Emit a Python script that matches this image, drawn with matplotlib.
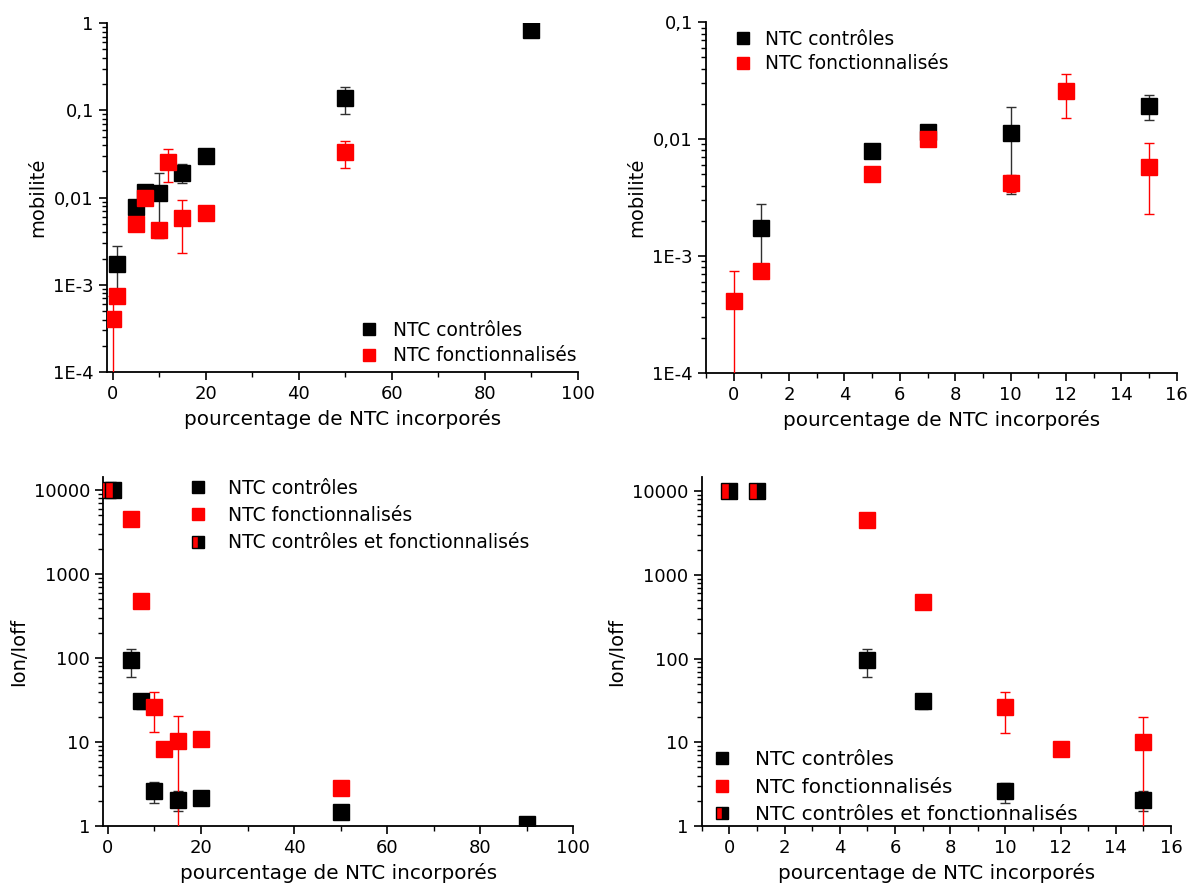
import matplotlib
matplotlib.use("Agg")
import matplotlib.pyplot as plt
from matplotlib.ticker import FixedLocator, FixedFormatter, LogLocator, NullFormatter, MultipleLocator
from matplotlib.lines import Line2D

plt.rcParams['font.family'] = ['DejaVu Sans']

# ---------------- data ----------------
# mobility
mob_ctrl_x = [1, 5, 7, 10, 15, 20, 50, 90]
mob_ctrl_y = [1.75e-3, 7.9e-3, 0.0115, 0.0112, 0.0193, 0.030, 0.137, 0.83]
mob_ctrl_err = [1.05e-3, 0, 0.0008, 0.0078, 0.0047, 0, 0.046, 0]

mob_func_x = [0, 1, 5, 7, 10, 12, 15, 20, 50]
mob_func_y = [4.1e-4, 7.4e-4, 5.0e-3, 0.0100, 0.0042, 0.0257, 0.0058, 0.0066, 0.033]
mob_func_err = [3.3e-4, 0, 0, 0, 0.0007, 0.0105, 0.0035, 0, 0.011]

# Ion/Ioff
ion_ctrl_x = [5, 7, 10, 15, 20, 50, 90]
ion_ctrl_y = [95, 31, 2.6, 2.05, 2.15, 1.45, 1.05]
ion_ctrl_err = [35, 6, 0.7, 0.55, 0, 0, 0]

ion_func_x = [5, 7, 10, 12, 15, 20, 50]
ion_func_y = [4500, 480, 26.5, 8.3, 10.2, 11.0, 2.8]
ion_func_err = [0, 0, 13.5, 0, 10, 0, 0]

ion_both_x = [0, 1]
ion_both_y = [10000, 10000]

mob_ticks = [1e-4, 1e-3, 1e-2, 1e-1, 1]
mob_ticklabels = ['1E-4', '1E-3', '0,01', '0,1', '1']
ion_ticks = [1, 10, 100, 1000, 10000]
ion_ticklabels = ['1', '10', '100', '1000', '10000']

lbl_ctrl = 'NTC contrôles'
lbl_func = 'NTC fonctionnalisés'
lbl_both = 'NTC contrôles et fonctionnalisés'
xlabel = 'pourcentage de NTC incorporés'

# ---------------- style ----------------
FS = 13
MS = 11
RED = '#ff0000'

fig = plt.figure(figsize=(11.9, 8.9), dpi=100)
ax_tl = fig.add_axes([0.0899, 0.582, 0.3955, 0.392])
ax_tr = fig.add_axes([0.5933, 0.581, 0.3955, 0.394])
ax_bl = fig.add_axes([0.0868, 0.0719, 0.395, 0.392])
ax_br = fig.add_axes([0.5897, 0.0719, 0.3944, 0.392])


def style(ax, ticks, labels, ylim, xlim, xmajor, xminor, ylabel):
    ax.set_yscale('log')
    ax.set_ylim(*ylim)
    ax.set_xlim(*xlim)
    ax.yaxis.set_major_locator(FixedLocator(ticks))
    ax.yaxis.set_major_formatter(FixedFormatter(labels))
    ax.yaxis.set_minor_locator(LogLocator(base=10, subs=range(2, 10), numticks=20))
    ax.yaxis.set_minor_formatter(NullFormatter())
    ax.xaxis.set_major_locator(MultipleLocator(xmajor))
    ax.xaxis.set_minor_locator(MultipleLocator(xminor))
    for s in ['top', 'right']:
        ax.spines[s].set_visible(False)
    for s in ['left', 'bottom']:
        ax.spines[s].set_linewidth(1.3)
    ax.tick_params(which='major', direction='out', length=6, width=1.2, labelsize=FS)
    ax.tick_params(which='minor', direction='out', length=3.5, width=1.0)
    ax.set_xlabel(xlabel, fontsize=14.4)
    ax.set_ylabel(ylabel, fontsize=14)


def eb(ax, x, y, err, color, ecolor, label=None):
    ax.errorbar(x, y, yerr=err, fmt='s', ms=MS, mfc=color, mec=color,
                ecolor=ecolor, elinewidth=1.0, capsize=3.5, capthick=1.0,
                label=label, zorder=3)


def both(ax):
    ax.plot(ion_both_x, ion_both_y, ls='none', marker='s', ms=MS,
            fillstyle='right', mfc='black', mfcalt=RED, mec='black', mew=1.0, zorder=4)


# top-left
eb(ax_tl, mob_ctrl_x, mob_ctrl_y, mob_ctrl_err, 'black', '#303030')
eb(ax_tl, mob_func_x, mob_func_y, mob_func_err, RED, RED)
style(ax_tl, mob_ticks, mob_ticklabels, (1e-4, 1.0), (-1.2, 100), 20, 10, 'mobilité')

# top-right
eb(ax_tr, mob_ctrl_x, mob_ctrl_y, mob_ctrl_err, 'black', '#303030')
eb(ax_tr, mob_func_x, mob_func_y, mob_func_err, RED, RED)
style(ax_tr, mob_ticks[:-1], mob_ticklabels[:-1], (1e-4, 0.1), (-1.0, 16), 2, 1, 'mobilité')

# bottom-left
eb(ax_bl, ion_ctrl_x, ion_ctrl_y, ion_ctrl_err, 'black', '#303030')
eb(ax_bl, ion_func_x, ion_func_y, ion_func_err, RED, RED)
both(ax_bl)
style(ax_bl, ion_ticks, ion_ticklabels, (1, 14300), (-1.0, 100), 20, 10, 'Ion/Ioff')

# bottom-right
eb(ax_br, ion_ctrl_x, ion_ctrl_y, ion_ctrl_err, 'black', '#303030')
eb(ax_br, ion_func_x, ion_func_y, ion_func_err, RED, RED)
both(ax_br)
style(ax_br, ion_ticks, ion_ticklabels, (1, 14700), (-1.0, 16), 2, 1, 'Ion/Ioff')

# legends
h_ctrl = Line2D([], [], ls='none', marker='s', ms=9, mfc='black', mec='black')
h_func = Line2D([], [], ls='none', marker='s', ms=9, mfc=RED, mec=RED)
h_both = Line2D([], [], ls='none', marker='s', ms=9, fillstyle='right',
                mfc='black', mfcalt=RED, mec='black')

def leg_kw(fs, pad, ls):
    return dict(frameon=False, fontsize=fs, handlelength=1.0, handletextpad=pad,
                labelspacing=ls, borderaxespad=0)

ax_tl.legend([h_ctrl, h_func], [lbl_ctrl, lbl_func], loc='upper left',
             bbox_to_anchor=(0.522, 0.168), **leg_kw(13.4, 0.77, 0.34))
ax_tr.legend([h_ctrl, h_func], [lbl_ctrl, lbl_func], loc='upper left',
             bbox_to_anchor=(0.043, 1.0), **leg_kw(13.4, 0.68, 0.31))
ax_bl.legend([h_ctrl, h_func, h_both], [lbl_ctrl, lbl_func, lbl_both], loc='upper left',
             bbox_to_anchor=(0.166, 1.017), **leg_kw(13.5, 1.1, 0.44))
ax_br.legend([h_ctrl, h_func, h_both], [lbl_ctrl, lbl_func, lbl_both], loc='lower left',
             bbox_to_anchor=(0.005, -0.017), **leg_kw(14.4, 1.13, 0.42))

fig.savefig('out.png', dpi=100)
